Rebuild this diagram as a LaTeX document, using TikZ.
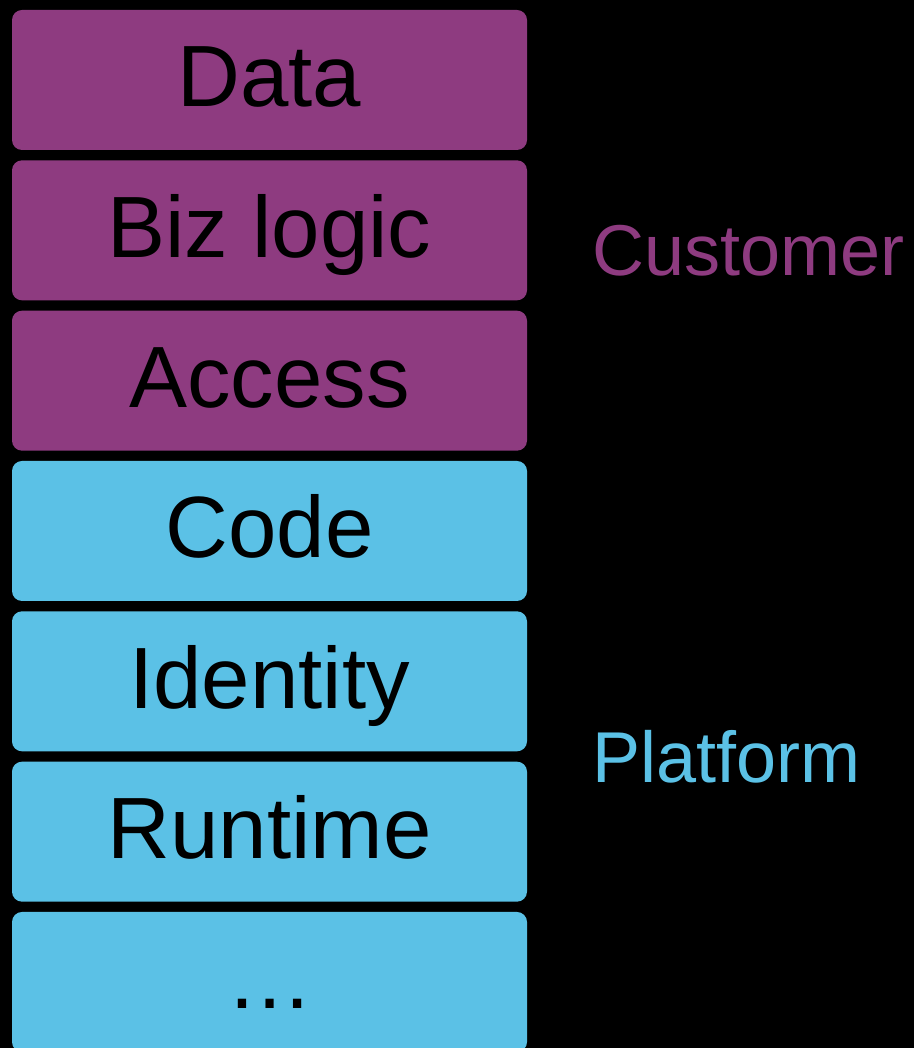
\documentclass[tikz,border=0pt]{standalone}
\usepackage{fontspec}
\setmainfont{Liberation Sans}
\usetikzlibrary{positioning}
\definecolor{custpurple}{RGB}{142,59,128}
\definecolor{platblue}{RGB}{91,193,230}

\begin{document}
\begin{tikzpicture}[x=1pt,y=-1pt,
  layer/.style={rounded corners=10pt,minimum width=515pt,minimum height=140pt,
    inner sep=0pt,text height=54pt,text depth=0pt,
    font=\fontsize{87}{100}\selectfont,text=black},
  cust/.style={layer,fill=custpurple},
  plat/.style={layer,fill=platblue},
  side/.style={anchor=base west,inner sep=0pt,font=\fontsize{72}{84}\selectfont}]
 \fill[black] (0,0) rectangle (914,1048);
 \clip (0,0) rectangle (914,1048);
 \foreach \n/\t/\s [count=\i from 0] in
   {data/Data/cust,biz/Biz logic/cust,access/Access/cust,
    code/Code/plat,identity/Identity/plat,runtime/Runtime/plat,more/…/plat}
   \node[\s] (\n) at (269.5,80+150.33*\i) {\t};
 \node[side,text=custpurple] (customer) at (592,276) {Customer};
 \node[side,text=platblue] (platform) at (592,782) {Platform};
\end{tikzpicture}
\end{document}
